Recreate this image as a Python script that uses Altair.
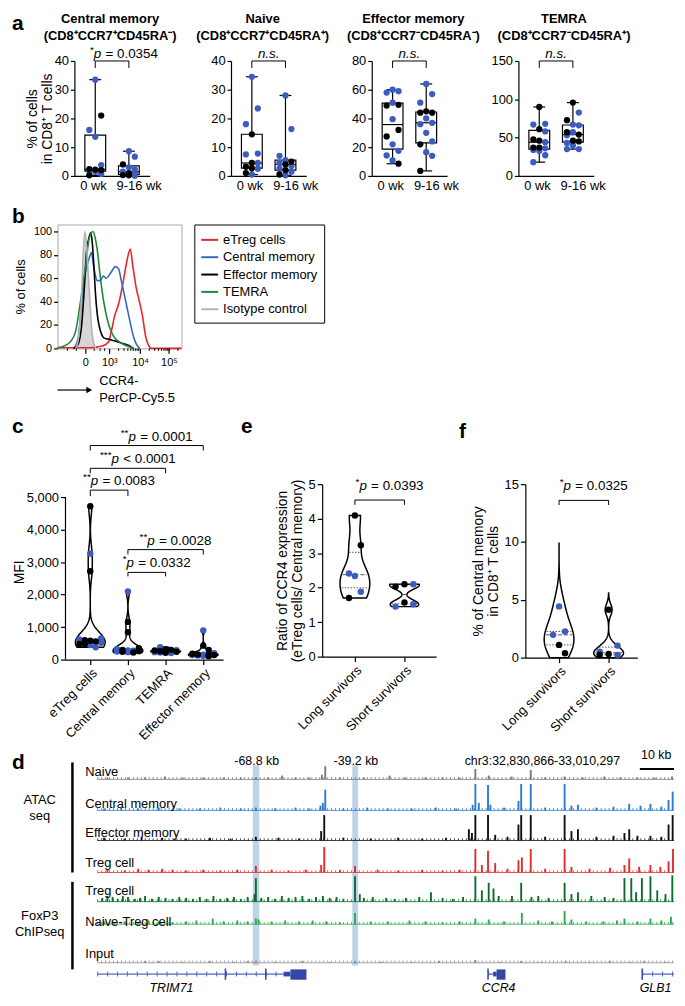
import math
import altair as alt
import pandas as pd

FONT = "Liberation Sans"
PT_BLUE = "#3B5CC0"
PT_BLACK = "#000000"

# ---------------- panel a : % of cells (box plots) ----------------
a_weeks = ["0 wk", "9-16 wk"]
a_cm_0 = [33.5, 21.0, 16.0, 13.6, 3.8, 2.4, 2.2, 2.0, 1.7, 1.5, 0.7, 0.2]
a_cm_0_c = ["blue", "black", "blue", "blue", "blue", "black", "black", "black", "blue", "blue", "blue", "black"]
a_cm_1 = [8.6, 6.7, 4.0, 3.0, 2.3, 1.5, 1.0, 0.8, 0.3, 0.2, 0.1]
a_cm_1_c = ["blue", "blue", "black", "blue", "blue", "blue", "black", "blue", "black", "black", "blue"]
a_nv_0 = [34.5, 23.5, 18.0, 14.5, 7.8, 7.5, 4.5, 4.5, 3.2, 2.7, 2.5, 1.0, 0.5]
a_nv_0_c = ["blue", "blue", "blue", "black", "blue", "blue", "black", "blue", "black", "black", "blue", "black", "blue"]
a_nv_1 = [28.0, 16.3, 7.0, 5.5, 5.0, 4.5, 4.0, 3.5, 2.5, 2.0, 1.5, 0.5, 0.2]
a_nv_1_c = ["blue", "blue", "blue", "blue", "black", "blue", "black", "blue", "blue", "black", "blue", "black", "blue"]
a_em_0 = [60, 59, 58, 51, 49.5, 49, 39.5, 32, 27.5, 22, 17.5, 14.3, 10.8, 8.5]
a_em_0_c = ["blue", "blue", "blue", "blue", "black", "black", "blue", "black", "black", "blue", "blue", "blue", "blue", "black"]
a_em_1 = [64, 57, 51, 45, 44, 44, 40, 37, 36, 30, 24, 22, 16.5, 14, 3.5]
a_em_1_c = ["blue", "blue", "blue", "black", "black", "black", "blue", "blue", "blue", "blue", "blue", "black", "blue", "blue", "black"]
a_te_0 = [90, 68, 67, 61, 58, 47.6, 46, 44, 37, 37, 36, 34, 33, 27, 18]
a_te_0_c = ["black", "blue", "blue", "black", "blue", "black", "black", "blue", "black", "black", "blue", "blue", "blue", "blue", "blue"]
a_te_1 = [95.7, 82.7, 72.7, 67, 66, 57, 57, 54, 53, 46, 45, 43, 39.8, 35, 35]
a_te_1_c = ["black", "blue", "black", "blue", "blue", "black", "blue", "black", "blue", "black", "black", "blue", "blue", "blue", "blue"]

# ---------------- panel b : CCR4 histograms ----------------
b_series = ["eTreg cells", "Central memory", "Effector memory", "TEMRA", "Isotype control"]
b_colors = ["#E8262A", "#3566C5", "#000000", "#1D8A3B", "#B4B4B4"]
b_tick_vals = [0, 0.81, 1.84, 2.81]
b_tick_text = ["0", "10³", "10⁴", "10⁵"]
b_iso_x = [-0.32, -0.22, -0.12, -0.06, -0.01, 0.05, 0.14, 0.22, 0.34]
b_iso_y = [0, 10, 48, 85, 100, 85, 48, 15, 0]
b_em_x = [-0.40, -0.25, -0.12, -0.04, 0.05, 0.10, 0.18, 0.23, 0.28, 0.34, 0.40, 0.46, 0.55, 0.62, 0.75, 0.90, 1.05, 1.23, 1.46, 1.62]
b_em_y = [0, 3, 20, 48, 85, 92, 99, 92, 75, 48, 30, 20, 12, 9, 8, 7, 6, 4.5, 2.5, 0]
b_te_x = [-0.93, -0.71, -0.49, -0.32, -0.16, 0.01, 0.14, 0.26, 0.33, 0.40, 0.51, 0.62, 0.79, 0.96, 1.18, 1.40, 1.62]
b_te_y = [0.5, 2, 6, 15, 40, 70, 95, 100, 95, 85, 60, 40, 20, 10, 5, 2, 0]
b_cm_x = [-0.38, -0.23, -0.12, 0.01, 0.14, 0.21, 0.27, 0.32, 0.40, 0.51, 0.60, 0.70, 0.84, 1.01, 1.12, 1.21, 1.32, 1.46, 1.62, 1.73, 1.84]
b_cm_y = [0, 10, 40, 65, 78, 82, 72, 65, 58, 58, 62, 60, 64, 70, 68, 58, 45, 28, 10, 3, 0]
b_tr_x = [-0.93, 0.0, 0.34, 0.57, 0.77, 0.88, 0.99, 1.12, 1.26, 1.40, 1.51, 1.60, 1.71, 1.82, 1.92, 2.03, 2.14, 2.23, 3.23]
b_tr_y = [0.5, 0.5, 1, 2, 5, 15, 28, 38, 55, 75, 85, 70, 52, 40, 28, 10, 2, 0, 0]

# ---------------- panel c : MFI ----------------
c_names = ["eTreg cells", "Central memory", "TEMRA", "Effector memory"]
c_etreg = [4720, 3260, 2720, 650, 620, 600, 580, 560, 520, 480, 470, 450, 380]
c_etreg_c = ["black", "blue", "black", "blue", "blue", "black", "black", "black", "blue", "black", "black", "blue", "blue"]
c_cm = [2100, 1160, 840, 350, 320, 300, 280, 270, 260, 250, 240, 230, 220]
c_cm_c = ["blue", "black", "black", "black", "blue", "black", "blue", "blue", "black", "blue", "black", "blue", "black"]
c_te = [380, 320, 300, 290, 280, 260, 260, 250, 240, 230, 220, 210, 200]
c_te_c = ["blue", "black", "black", "blue", "black", "black", "blue", "blue", "black", "blue", "blue", "black", "blue"]
c_em = [900, 430, 300, 200, 180, 160, 150, 150, 140, 140, 130, 120, 100]
c_em_c = ["blue", "black", "black", "blue", "black", "black", "blue", "black", "black", "blue", "blue", "blue", "black"]
c_sig = [  # x0, x1, bracket level, leg end, stars, op, value
    (0, 1, 5213, 5030, "**", "=", "0.0083"),
    (0, 2, 5884, 5732, "***", "<", "0.0001"),
    (0, 3, 6585, 6433, "**", "=", "0.0001"),
    (1, 3, 3384, 3232, "**", "=", "0.0028"),
    (1, 2, 2683, 2561, "*", "=", "0.0332"),
]

# ---------------- panels e / f : survivors ----------------
ef_names = ["Long survivors", "Short survivors"]
e_long = [4.09, 3.23, 2.41, 2.34, 1.88, 1.70]
e_long_c = ["black", "black", "blue", "blue", "blue", "black"]
e_short = [2.10, 2.10, 2.03, 1.57, 1.52, 1.45]
e_short_c = ["black", "blue", "black", "black", "blue", "blue"]
f_long = [4.43, 2.26, 1.97, 1.10, 0.38]
f_long_c = ["blue", "blue", "blue", "black", "black"]
f_short = [4.14, 1.04, 0.52, 0.32, 0.23, 0.23]
f_short_c = ["black", "blue", "blue", "black", "blue", "black"]

# ---------------- panel d : genome tracks (kb from left edge, signal height) ----------------
d_naive_kb = [3, 9, 14, 19.8, 25, 31, 37, 42, 46.4, 50, 54.1, 58, 62, 65.7, 66.7, 71, 78, 85.5, 90, 96, 101, 106, 110.6, 114.5, 121.2, 126.8, 131, 136.7, 142, 148.3, 153, 158, 163, 168.1]
d_naive_h = [2, 2, 2, 3, 2, 2, 2, 2, 2, 2, 4, 2, 2, 5, 14, 2, 2, 4, 2, 2, 2, 2, 11, 4, 3, 10, 2, 3, 2, 3, 2, 2, 2, 3]
d_cm_kb = [2, 7, 12, 18, 24, 30, 36, 42, 46.4, 52, 58, 62, 65.3, 66.0, 66.7, 72, 79, 85, 92, 99, 105, 109.8, 110.6, 111.6, 114.3, 115.0, 119, 123.2, 124.0, 126.8, 131, 136.7, 138.7, 140.6, 146, 151, 155.6, 158.9, 161.8, 165, 167.1, 168.3]
d_cm_h = [2, 3, 2, 3, 2, 2, 3, 2, 3, 2, 3, 2, 5, 8, 22, 2, 3, 2, 2, 3, 2, 6, 28, 8, 27, 6, 3, 10, 28, 28, 3, 28, 5, 6, 3, 4, 7, 5, 7, 4, 11, 20]
d_em_kb = [2, 8, 13, 19, 26, 33, 39, 46.4, 53, 59, 65.5, 66.4, 72, 80, 88, 95, 102, 108.7, 109.6, 110.6, 114.3, 116.4, 120, 123.2, 124.0, 126.8, 131, 136.7, 138.7, 140.6, 146, 151, 154.2, 155.6, 158, 161.8, 165, 167.1, 168.3]
d_em_h = [3, 2, 4, 3, 2, 3, 2, 4, 3, 2, 10, 27, 3, 2, 3, 2, 3, 12, 8, 27, 27, 6, 4, 17, 27, 27, 4, 27, 10, 12, 4, 5, 8, 12, 5, 5, 4, 17, 27]
d_tr_kb = [3, 8, 12, 15, 19, 22, 26, 31, 36, 41, 46.4, 51, 56, 61, 65.5, 66.4, 71, 75.4, 82, 88, 95, 101, 106, 110.6, 112.5, 114.3, 116.4, 120, 123.2, 124.2, 126.8, 131, 136.7, 138.7, 144, 150, 154.2, 155.6, 158.5, 161.8, 164.7, 167.1, 168.4]
d_tr_h = [3, 2, 4, 3, 4, 3, 2, 3, 2, 3, 7, 3, 2, 3, 8, 27, 3, 7, 3, 2, 3, 2, 3, 25, 8, 23, 10, 4, 13, 16, 25, 4, 25, 6, 4, 5, 8, 15, 6, 8, 6, 12, 25]
d_fx_kb = [1.5, 3, 4.5, 6, 7.5, 9, 11, 12.5, 14, 16, 18, 20, 22, 24, 26, 28, 30, 32, 34, 36, 38, 40, 42, 44, 46.0, 46.4, 48, 50, 52, 54, 56, 58, 60, 62, 64, 66, 68, 70, 72, 75.4, 76.8, 78, 80.6, 84.5, 87, 90.3, 94.2, 97.6, 101, 104, 107, 110.6, 112.5, 114.5, 115.9, 117.4, 121.3, 124.0, 127, 129, 132, 136.7, 138.7, 140.6, 144.5, 148.4, 151, 154.2, 156.2, 157.6, 159.3, 161.8, 163.8, 166.2, 168.2]
d_fx_h = [4, 6, 5, 3, 6, 5, 3, 4, 6, 3, 5, 4, 3, 5, 4, 3, 5, 3, 6, 3, 4, 5, 3, 5, 8, 25, 4, 5, 3, 6, 4, 5, 6, 3, 5, 6, 4, 5, 3, 27, 8, 4, 5, 4, 3, 4, 5, 10, 4, 3, 5, 27, 12, 20, 14, 6, 6, 20, 5, 6, 4, 20, 8, 10, 6, 5, 4, 25, 25, 10, 25, 27, 12, 8, 28]
d_nt_kb = [2, 5, 8, 12, 15, 18, 22, 26, 29, 33.8, 37, 41, 44, 46.4, 47.2, 51, 55, 59, 63, 67, 71, 75.4, 80, 85, 91.3, 96, 101, 106, 110.6, 114.5, 119, 124.2, 129, 133, 136.7, 138.7, 143, 148, 152, 154.2, 158, 161.8, 165, 167.8]
d_nt_h = [3, 2, 3, 2, 4, 3, 2, 3, 4, 6, 3, 4, 3, 6, 5, 3, 4, 3, 4, 3, 2, 12, 3, 3, 4, 3, 2, 3, 6, 5, 3, 12, 4, 3, 14, 5, 3, 3, 4, 6, 3, 6, 4, 8]
d_in_kb = [6, 14, 18, 25, 33, 40, 44, 46.4, 52, 60, 68, 75.4, 83, 92, 100, 110.6, 118, 124, 130, 137, 144, 150, 156, 160, 166]
d_in_h = [1, 2, 2, 1, 2, 1, 2, 2, 1, 2, 1, 2, 1, 1, 2, 3, 1, 2, 1, 2, 1, 2, 1, 2, 1]
d_track_names = ["Naive", "Central memory", "Effector memory", "Treg cell", "Treg cell", "Naive-Treg cell", "Input"]
d_highlight_kb = [(45.5, 47.4, "-68.8 kb"), (74.6, 76.3, "-39.2 kb")]
d_genes = ["TRIM71", "CCR4", "GLB1"]
d_gene_lines = [(0, 54.5), (114.3, 116.8), (159.4, 168.7)]
d_gene_exons = [(54.5, 56.5, "utr"), (56.5, 61.2, "cds"), (115.8, 116.8, "utr"), (116.8, 119.4, "cds")]
d_gene_marks = [37.5, 49.3, 114.3, 159.4]
d_gene_label_kb = [21.7, 117.4, 163.3]

AX_LABEL = 13
AX_TITLE = 14
SIG = 13.5
NBSP = "\u00a0"


# ======================= helpers =======================
def one():
    return pd.DataFrame({"z": [0]})


def frame(L, W, R, T, H, B):
    # invisible diagonal that fixes the bounding box of a panel
    return alt.Chart(one()).mark_rule(stroke="white", strokeOpacity=0, strokeWidth=1).encode(
        x=alt.value(-L + 0.5), x2=alt.value(W + R - 0.5),
        y=alt.value(-T + 0.5), y2=alt.value(H + B - 0.5))


def spacer():
    return alt.Chart(one()).mark_rule(stroke="white", strokeOpacity=0, strokeWidth=1).encode(
        x=alt.value(0.5), x2=alt.value(0.5), y=alt.value(0.5)).properties(width=1, height=1)


def label(text, x, y, size=12, weight="normal", style="normal", align="left",
          baseline="alphabetic", color="black"):
    return alt.Chart(one()).mark_text(
        text=text, font=FONT, fontSize=size, fontWeight=weight, fontStyle=style,
        align=align, baseline=baseline, color=color).encode(x=alt.value(x), y=alt.value(y))


def make_xy(xdom, ydom, xaxis, yaxis):
    xs = alt.Scale(domain=xdom, nice=False, zero=False)
    ys = alt.Scale(domain=ydom, nice=False, zero=False)

    def X(f):
        return alt.X(f, type="quantitative", scale=xs, axis=xaxis)

    def Y(f):
        return alt.Y(f, type="quantitative", scale=ys, axis=yaxis)
    return X, Y


def dtext(text, x, y, X, Y, size=12, style="normal", align="center", baseline="middle", dx=0, dy=0, weight="normal"):
    return alt.Chart(pd.DataFrame({"x": [x], "y": [y]})).mark_text(
        text=text, font=FONT, fontSize=size, fontStyle=style, fontWeight=weight, align=align,
        baseline=baseline, dx=dx, dy=dy, color="black").encode(x=X("x"), y=Y("y"))


def vtext(text, xpx, y, Y, size=13, align="left", baseline="middle", weight="normal"):
    return alt.Chart(pd.DataFrame({"y": [y]})).mark_text(
        text=text, font=FONT, fontSize=size, fontWeight=weight, align=align, baseline=baseline,
        color="black").encode(x=alt.value(xpx), y=Y("y"))


CW = {"*": 0.389, "p": 0.556, " ": 0.278, NBSP: 0.278, "=": 0.584, "<": 0.584, ".": 0.278}


def twidth(s, size):
    return sum(CW.get(ch, 0.556) for ch in s) * size


def bracket(x0, x1, yb, yl, X, Y):
    c = alt.Chart(pd.DataFrame({"x0": [x0], "x1": [x1], "y": [yb], "yl": [yl]}))
    return [
        c.mark_rule(color="black", strokeWidth=1).encode(x=X("x0"), x2=alt.X2("x1"), y=Y("y")),
        c.mark_rule(color="black", strokeWidth=1).encode(x=X("x0"), y=Y("yl"), y2=alt.Y2("y")),
        c.mark_rule(color="black", strokeWidth=1).encode(x=X("x1"), y=Y("yl"), y2=alt.Y2("y")),
    ]


def sig_text(xc, yv, X, Y, stars, op, val, shift, dy):
    rest = f"{op} {val}"
    w_st = twidth(stars, 10)
    w_p = twidth("p", SIG) + twidth(" ", SIG) + 0.5
    w_r = twidth(rest, SIG)
    start = shift - (w_st + w_p + w_r) / 2
    base = alt.Chart(pd.DataFrame({"x": [xc], "y": [yv]})).encode(x=X("x"), y=Y("y"))
    return [
        base.mark_text(text=stars, font=FONT, fontSize=10, align="left", baseline="alphabetic",
                       dx=start, dy=dy - 5, color="black"),
        base.mark_text(text="p", font=FONT, fontSize=SIG, fontStyle="italic", align="left",
                       baseline="alphabetic", dx=start + w_st, dy=dy, color="black"),
        base.mark_text(text=rest, font=FONT, fontSize=SIG, align="left", baseline="alphabetic",
                       dx=start + w_st + w_p, dy=dy, color="black"),
    ]


def dots(vals, cols, g, X, Y, unit, step_px, ncyc, thr=None, size=40):
    df = pd.DataFrame({"v": vals, "c": cols})
    mid = (ncyc - 1) // 2
    cond = f"datum.v < {thr}" if thr is not None else "true"
    base = (alt.Chart(df)
            .transform_window(r="row_number()", sort=[alt.SortField("v", order="descending")])
            .transform_calculate(jx=f"{g} + (({cond}) ? ((datum.r % {ncyc}) - {mid}) * {step_px / unit} : 0)"))
    out = []
    for key, colr in (("blue", PT_BLUE), ("black", PT_BLACK)):
        out.append(base.transform_filter(f"datum.c == '{key}'")
                   .mark_circle(size=size, opacity=1, color=colr)
                   .encode(x=X("jx"), y=Y("v")))
    return out


def violin(vals, g, bw, ext, X, Y, hw):
    df = pd.DataFrame({"v": vals})
    return (alt.Chart(df)
            .transform_density("v", as_=["v", "d"], bandwidth=bw, extent=ext, steps=150)
            .transform_joinaggregate(dm="max(d)")
            .transform_calculate(xl=f"{g} - datum.d / datum.dm * {hw}",
                                 xr=f"{g} + datum.d / datum.dm * {hw}")
            .mark_area(orient="horizontal", fill="white", stroke="black", strokeWidth=1.5)
            .encode(y=Y("v"), x=X("xl"), x2=alt.X2("xr")))


def quart_lines(vals, g, bw, ext, X, Y, hw):
    df = pd.DataFrame({"v": vals, "g": [0] * len(vals)})
    base = (alt.Chart(df)
            .transform_joinaggregate(q1="q1(v)", med="median(v)", q3="q3(v)", groupby=["g"])
            .transform_density("v", as_=["v", "d"], bandwidth=bw, extent=ext, steps=150,
                               groupby=["g", "q1", "med", "q3"])
            .transform_joinaggregate(dm="max(d)"))
    out = []
    for stat, dash in (("q1", [1.5, 1.5]), ("med", [4, 2]), ("q3", [1.5, 1.5])):
        out.append(base.transform_calculate(dist=f"abs(datum.v - datum.{stat})")
                   .transform_window(rk="row_number()", sort=[alt.SortField("dist", order="ascending")])
                   .transform_filter("datum.rk == 1")
                   .transform_calculate(xl=f"{g} - datum.d / datum.dm * {hw * 0.9}",
                                        xr=f"{g} + datum.d / datum.dm * {hw * 0.9}",
                                        yv=f"datum.{stat}")
                   .mark_rule(color="#555555", strokeWidth=1, strokeDash=dash)
                   .encode(x=X("xl"), x2=alt.X2("xr"), y=Y("yv")))
    return out


# ======================= panel a =======================
def panel_a(v0, c0, v1, c1, ymax, yvals, t1, t2, sig, L, R, tdx, ytitle=None, letter=None):
    T, H, B = 49, 116, 18
    W, half = 76, 0.62
    unit = W / (1 + 2 * half)
    xa = alt.Axis(values=[-0.07, 1.29], labelExpr=f"datum.value < 0.5 ? '{a_weeks[0]}' : '{a_weeks[1]}'",
                  title=None, labelFlush=False, labelOverlap=False, ticks=False, labelPadding=4,
                  labelFontSize=AX_LABEL)
    if ytitle:
        ya = alt.Axis(values=yvals, title=ytitle, titlePadding=0, labelFontSize=AX_LABEL,
                      titleFontSize=AX_TITLE, titleLineHeight=15, tickSize=4)
    else:
        ya = alt.Axis(values=yvals, title=None, labelFontSize=AX_LABEL, tickSize=4)
    X, Y = make_xy([-half, 1 + half], [0, ymax], xa, ya)
    dfg = pd.DataFrame({"v": v0 + v1, "g": [0] * len(v0) + [1] * len(v1)})
    st = (alt.Chart(dfg)
          .transform_aggregate(q1="q1(v)", med="median(v)", q3="q3(v)", lo="min(v)", hi="max(v)", groupby=["g"])
          .transform_calculate(xl=f"datum.g - {10.5 / unit}", xr=f"datum.g + {10.5 / unit}",
                               cl=f"datum.g - {6 / unit}", cr=f"datum.g + {6 / unit}"))
    layers = [
        st.mark_rule(color="black", strokeWidth=1.2).encode(x=X("g"), y=Y("lo"), y2=alt.Y2("hi")),
        st.mark_rect(fill="white", stroke="black", strokeWidth=1.2).encode(
            x=X("xl"), x2=alt.X2("xr"), y=Y("q1"), y2=alt.Y2("q3")),
        st.mark_rule(color="black", strokeWidth=1.2).encode(x=X("xl"), x2=alt.X2("xr"), y=Y("med")),
        st.mark_rule(color="black", strokeWidth=1.2).encode(x=X("cl"), x2=alt.X2("cr"), y=Y("hi")),
        st.mark_rule(color="black", strokeWidth=1.2).encode(x=X("cl"), x2=alt.X2("cr"), y=Y("lo")),
    ]
    layers += dots(v0, c0, 0, X, Y, unit, 6, 3)
    layers += dots(v1, c1, 1, X, Y, unit, 6, 3)
    layers += bracket(0, 1, ymax, ymax * (1 - 7 / H), X, Y)
    if sig == "ns":
        layers.append(dtext("n.s.", 0.5, ymax, X, Y, size=SIG, style="italic", baseline="alphabetic", dy=-3))
    else:
        layers += sig_text(0.5, ymax, X, Y, sig[0], sig[1], sig[2], 12, -3)
    layers.append(label(t1, W / 2 + tdx, -42, size=13, weight="bold", align="center", baseline="middle"))
    layers.append(label(t2, W / 2 + tdx, -25, size=13, weight="bold", align="center", baseline="middle"))
    if letter:
        layers.append(label(letter, -L, -T + 0.5, size=21, weight="bold", baseline="top"))
    return alt.layer(frame(L, W, R, T, H, B), *layers).properties(width=W, height=H)


p1 = panel_a(a_cm_0, a_cm_0_c, a_cm_1, a_cm_1_c, 40, [0, 10, 20, 30, 40],
             "Central memory", "(CD8⁺CCR7⁺CD45RA⁻)", ("*", "=", "0.0354"), 63, 37, -2,
             ytitle=["% of cells", "in CD8⁺ T cells"], letter="a")
p2 = panel_a(a_nv_0, a_nv_0_c, a_nv_1, a_nv_1_c, 40, [0, 10, 20, 30, 40],
             "Naive", "(CD8⁺CCR7⁺CD45RA⁺)", "ns", 45, 34, -6)
p3 = panel_a(a_em_0, a_em_0_c, a_em_1, a_em_1_c, 80, [0, 20, 40, 60, 80],
             "Effector memory", "(CD8⁺CCR7⁻CD45RA⁻)", "ns", 32, 41, 4)
p4 = panel_a(a_te_0, a_te_0_c, a_te_1, a_te_1_c, 150, [0, 50, 100, 150],
             "TEMRA", "(CD8⁺CCR7⁻CD45RA⁺)", "ns", 31, 81, 8)


# ======================= panel b =======================
def panel_b():
    L, W, R, T, H, B = 46, 125, 300, 31, 125, 58
    lab_expr = " : ".join(
        [f"datum.value < {v + 0.05} ? '{t}'" for v, t in zip(b_tick_vals[:-1], b_tick_text[:-1])]
    ) + f" : '{b_tick_text[-1]}'"
    xa = alt.Axis(values=b_tick_vals, labelExpr=lab_expr, title=None, domain=False, labelFlush=False,
                  tickSize=5, labelFontSize=11, labelPadding=3)
    ya = alt.Axis(values=[0, 20, 40, 60, 80, 100], title="% of cells", domain=False, tickSize=4,
                  labelFontSize=11, titleFontSize=13, titlePadding=6)
    X, Y = make_xy([-0.93, 3.23], [0, 106], xa, ya)
    rows = []
    for name, xs_, ys_ in zip(b_series, [b_tr_x, b_cm_x, b_em_x, b_te_x, b_iso_x],
                              [b_tr_y, b_cm_y, b_em_y, b_te_y, b_iso_y]):
        rows += [{"s": name, "x": a, "y": b} for a, b in zip(xs_, ys_)]
    df = pd.DataFrame(rows)
    area = alt.Chart(pd.DataFrame({"x": b_iso_x, "y": b_iso_y})).mark_area(
        color="#D6D6D6", interpolate="monotone").encode(x=X("x"), y=Y("y"))
    lines = alt.Chart(df).mark_line(strokeWidth=1.6, interpolate="monotone").encode(
        x=X("x"), y=Y("y"),
        color=alt.Color("s:N", scale=alt.Scale(domain=b_series, range=b_colors),
                        legend=alt.Legend(title=None, orient="right", offset=9, strokeColor="black",
                                          padding=6, symbolType="stroke", symbolStrokeWidth=2,
                                          symbolSize=289, labelFont=FONT, labelFontSize=13,
                                          labelColor="black", rowPadding=0.5, labelOffset=4,
                                          fillColor="white", cornerRadius=0)))
    minor = [-0.6, -0.3, 0.3, 0.5, 0.65]
    for s in (0.81, 1.84):
        minor += [s + 1.03 * math.log10(k) for k in range(2, 10)]
    minor += [2.81 + 1.0 * math.log10(k) for k in range(2, 3)]
    mt = alt.Chart(pd.DataFrame({"x": minor})).mark_rule(color="black", strokeWidth=1).encode(
        x=X("x"), y=alt.value(H), y2=alt.value(H + 2.5))
    arrow = alt.Chart(one()).mark_rule(color="black", strokeWidth=1.2).encode(
        x=alt.value(0), x2=alt.value(31), y=alt.value(167))
    head = alt.Chart(one()).mark_point(shape="triangle-right", filled=True, size=45, color="black",
                                       opacity=1).encode(x=alt.value(32), y=alt.value(167))
    layers = [area, lines, mt, arrow, head,
              label("CCR4-", 42, 158, size=13, baseline="middle"),
              label("PerCP-Cy5.5", 42, 175, size=13, baseline="middle"),
              label("b", -46, -2, size=21, weight="bold")]
    return alt.layer(frame(L, W, R, T, H, B), *layers).properties(
        width=W, height=H, view=alt.ViewBackground(stroke="#A8A8A8", strokeWidth=1))


pb = panel_b()


# ======================= panel c =======================
def panel_c():
    L, W, R, T, H, B = 54, 159, 16, 79, 177, 89
    d0, d1 = -0.658, 3.526
    unit = W / (d1 - d0)
    names = ",".join(f"'{n}'" for n in c_names)
    xa = alt.Axis(values=[0, 1, 2, 3], labelExpr=f"[{names}][datum.value]", labelAngle=315,
                  title=None, labelFlush=False, labelOverlap=False, tickSize=5, labelFontSize=AX_LABEL)
    ya = alt.Axis(values=[0, 1000, 2000, 3000, 4000, 5000], format=",d", title="MFI", domain=False,
                  titlePadding=0, labelFontSize=AX_LABEL, titleFontSize=AX_TITLE)
    X, Y = make_xy([d0, d1], [0, 5000 * H / 164], xa, ya)
    hw = 15 / unit
    layers = [alt.Chart(pd.DataFrame({"a": [0], "b": [5000]})).mark_rule(color="black", strokeWidth=1.2)
              .encode(x=alt.value(0), y=Y("a"), y2=alt.Y2("b"))]
    groups = [(c_etreg, c_etreg_c, 300, 700), (c_cm, c_cm_c, 170, 400),
              (c_te, c_te_c, 45, 1000), (c_em, c_em_c, 70, 500)]
    for g, (vals, cols, bw, thr) in enumerate(groups):
        layers.append(violin(vals, g, bw, [min(vals), max(vals)], X, Y, hw))
    for g, (vals, cols, bw, thr) in enumerate(groups):
        layers += dots(vals, cols, g, X, Y, unit, 5.5, 5, thr=thr, size=42)
    for x0, x1, yb, yl, stars, op, val in c_sig:
        layers += bracket(x0, x1, yb, yl, X, Y)
        layers += sig_text((x0 + x1) / 2, yb, X, Y, stars, op, val, 10, -5)
    layers.append(label("c", -54, -52, size=21, weight="bold"))
    return alt.layer(frame(L, W, R, T, H, B), *layers).properties(width=W, height=H)


# ======================= panels e / f =======================
def panel_ef(long_v, long_c, short_v, short_c, ymax, yvals, ytitle, W, H, L, R, B, d0, d1,
             bws, exts, br, sig, letter, letter_xy):
    T = 79
    unit = W / (d1 - d0)
    names = ",".join(f"'{n}'" for n in ef_names)
    xa = alt.Axis(values=[0, 1], labelExpr=f"[{names}][datum.value]", labelAngle=315, title=None,
                  labelFlush=False, labelOverlap=False, tickSize=5, labelFontSize=AX_LABEL)
    ya = alt.Axis(values=yvals, title=ytitle, labelFontSize=AX_LABEL, titleFontSize=AX_TITLE,
                  titlePadding=4, titleLineHeight=15)
    X, Y = make_xy([d0, d1], [0, ymax], xa, ya)
    hw = 15 / unit
    layers = []
    for g, vals in enumerate([long_v, short_v]):
        layers.append(violin(vals, g, bws[g], exts[g], X, Y, hw))
    for g, vals in enumerate([long_v, short_v]):
        layers += quart_lines(vals, g, bws[g], exts[g], X, Y, hw)
    layers += dots(long_v, long_c, 0, X, Y, unit, 6, 3, size=42)
    layers += dots(short_v, short_c, 1, X, Y, unit, 9, 3, size=42)
    layers += bracket(0, 1, br[0], br[1], X, Y)
    layers += sig_text(0.5, br[0], X, Y, sig[0], sig[1], sig[2], 10, -10)
    layers.append(label(letter, letter_xy[0], letter_xy[1], size=21, weight="bold"))
    return alt.layer(frame(L, W, R, T, H, B), *layers).properties(width=W, height=H)


pc = panel_c()
pe = panel_ef(e_long, e_long_c, e_short, e_short_c, 5, [0, 1, 2, 3, 4, 5],
              ["Ratio of CCR4 expression", "(eTreg cells/ Central memory)"],
              115, 174, 84, 21, 92, -0.66, 1.64, [0.35, 0.12],
              [[min(e_long), max(e_long)], [min(e_short), max(e_short)]],
              (4.54, 4.40), ("*", "=", "0.0393"), "e", (-82, -52))
pf = panel_ef(f_long, f_long_c, f_short, f_short_c, 15, [0, 5, 10, 15],
              ["% of Central memory", "in CD8⁺ T cells"],
              113, 175, 69, 37, 91, -0.68, 1.58, [1.3, 0.5],
              [[0, 9.9], [0, 5.6]],
              (13.6, 13.2), ("*", "=", "0.0325"), "f", (-67, -47))


# ======================= panel d =======================
def panel_d():
    L, W, R, T, H, B = 86, 582, 0, 5, 224, 11
    KB = 168.7
    X, Y = make_xy([0, KB], [236, 0], None, None)
    bases = [23, 56, 88, 122, 153, 177, 218]
    label_y = [15, 49, 80, 112, 142, 175, 209]
    colors = ["#7A7A7A", "#2B7BD0", "#111111", "#E32B2B", "#0D6B2C", "#2EA84A", "#8C8C8C"]
    peaks = [(d_naive_kb, d_naive_h), (d_cm_kb, d_cm_h), (d_em_kb, d_em_h), (d_tr_kb, d_tr_h),
             (d_fx_kb, d_fx_h), (d_nt_kb, d_nt_h), (d_in_kb, d_in_h)]
    layers = []
    hl = pd.DataFrame({"a": [h[0] for h in d_highlight_kb], "b": [h[1] for h in d_highlight_kb],
                       "t": [8] * len(d_highlight_kb), "u": [221] * len(d_highlight_kb)})
    layers.append(alt.Chart(hl).mark_rect(color="#BCD3EA").encode(
        x=X("a"), x2=alt.X2("b"), y=Y("t"), y2=alt.Y2("u")))
    for name, (kb, h), base, ly, col in zip(d_track_names, peaks, bases, label_y, colors):
        line_df = pd.DataFrame({"a": [0], "b": [KB], "y": [base], "y1": [base - 1.2]})
        layers.append(alt.Chart(line_df).mark_rule(color=col, strokeWidth=0.8).encode(
            x=X("a"), x2=alt.X2("b"), y=Y("y")))
        layers.append(alt.Chart(line_df).mark_rule(color=col, strokeWidth=2.4, strokeDash=[1, 3],
                                                   opacity=0.75).encode(
            x=X("a"), x2=alt.X2("b"), y=Y("y1")))
        layers.append(alt.Chart(pd.DataFrame({"kb": kb, "h": h}))
                      .transform_calculate(top=f"{base} - datum.h", bot=f"{base} + 0")
                      .mark_rule(color=col, strokeWidth=1.9)
                      .encode(x=X("kb"), y=Y("top"), y2=alt.Y2("bot")))
        layers.append(vtext(name, -12, ly, Y, size=13))
    # section labels
    layers += [vtext("ATAC", -58, 45, Y, align="center"), vtext("seq", -58, 62, Y, align="center"),
               vtext("FoxP3", -58, 168, Y, align="center"), vtext("ChIPseq", -58, 185, Y, align="center")]
    bars = pd.DataFrame({"y0": [5, 132], "y1": [122, 225]})
    layers.append(alt.Chart(bars).mark_rule(color="black", strokeWidth=2.5).encode(
        x=alt.value(-25), y=Y("y0"), y2=alt.Y2("y1")))
    # coordinates
    for a, b, t in d_highlight_kb:
        layers.append(dtext(t, (a + b) / 2 + 0.2, 4, X, Y, size=12.5))
    layers.append(dtext("chr3:32,830,866-33,010,297", 130.2, 4, X, Y, size=12.5))
    layers.append(dtext("10 kb", 163.5, -3, X, Y, size=12.5))
    layers.append(alt.Chart(pd.DataFrame({"a": [KB - 10], "b": [KB], "y": [12]}))
                  .mark_rule(color="black", strokeWidth=2).encode(x=X("a"), x2=alt.X2("b"), y=Y("y")))
    # gene models
    gl = pd.DataFrame({"a": [g[0] for g in d_gene_lines], "b": [g[1] for g in d_gene_lines],
                       "y": [230] * len(d_gene_lines)})
    gcol = "#3646A8"
    layers.append(alt.Chart(gl).mark_rule(color="#5566C4", strokeWidth=1.3).encode(
        x=X("a"), x2=alt.X2("b"), y=Y("y")))
    layers.append(alt.Chart(gl).mark_rule(color="#5566C4", strokeWidth=5, strokeDash=[1, 9]).encode(
        x=X("a"), x2=alt.X2("b"), y=Y("y")))
    ex = pd.DataFrame({"a": [e[0] for e in d_gene_exons], "b": [e[1] for e in d_gene_exons],
                       "t": [227.5 if e[2] == "utr" else 225 for e in d_gene_exons],
                       "u": [232.5 if e[2] == "utr" else 236 for e in d_gene_exons]})
    layers.append(alt.Chart(ex).mark_rect(color=gcol).encode(x=X("a"), x2=alt.X2("b"), y=Y("t"), y2=alt.Y2("u")))
    mk = pd.DataFrame({"x": d_gene_marks, "t": [224] * len(d_gene_marks), "u": [236] * len(d_gene_marks)})
    layers.append(alt.Chart(mk).mark_rule(color=gcol, strokeWidth=1.5).encode(x=X("x"), y=Y("t"), y2=alt.Y2("u")))
    for name, kb in zip(d_genes, d_gene_label_kb):
        layers.append(dtext(name, kb, 245, X, Y, size=12.5, style="italic"))
    layers.append(vtext("d", -86, 12, Y, size=21, weight="bold", baseline="alphabetic"))
    return alt.layer(frame(L, W, R, T, H, B), *layers).properties(width=W, height=H)


pdd = panel_d()

row_a = alt.hconcat(spacer(), p1, p2, p3, p4, spacing=0)
row_b = alt.hconcat(spacer(), pb, spacing=0).resolve_scale(color="independent").resolve_legend(color="independent")
row_c = alt.hconcat(spacer(), pc, pe, pf, spacing=0)
row_d = alt.hconcat(spacer(), pdd, spacing=0)

chart = (alt.vconcat(row_a, row_b, row_c, row_d, spacing=0)
         .resolve_scale(color="independent")
         .resolve_legend(color="independent")
         .properties(padding=0)
         .configure(font=FONT)
         .configure_view(stroke="transparent")
         .configure_axis(domainColor="black", domainWidth=1.2, tickColor="black", tickWidth=1.2,
                         tickSize=5, labelFont=FONT, labelColor="black", titleFont=FONT,
                         titleColor="black", titleFontWeight="normal", grid=False, labelPadding=2))

chart.save("out.html", embed_options={"renderer": "svg", "actions": False})
